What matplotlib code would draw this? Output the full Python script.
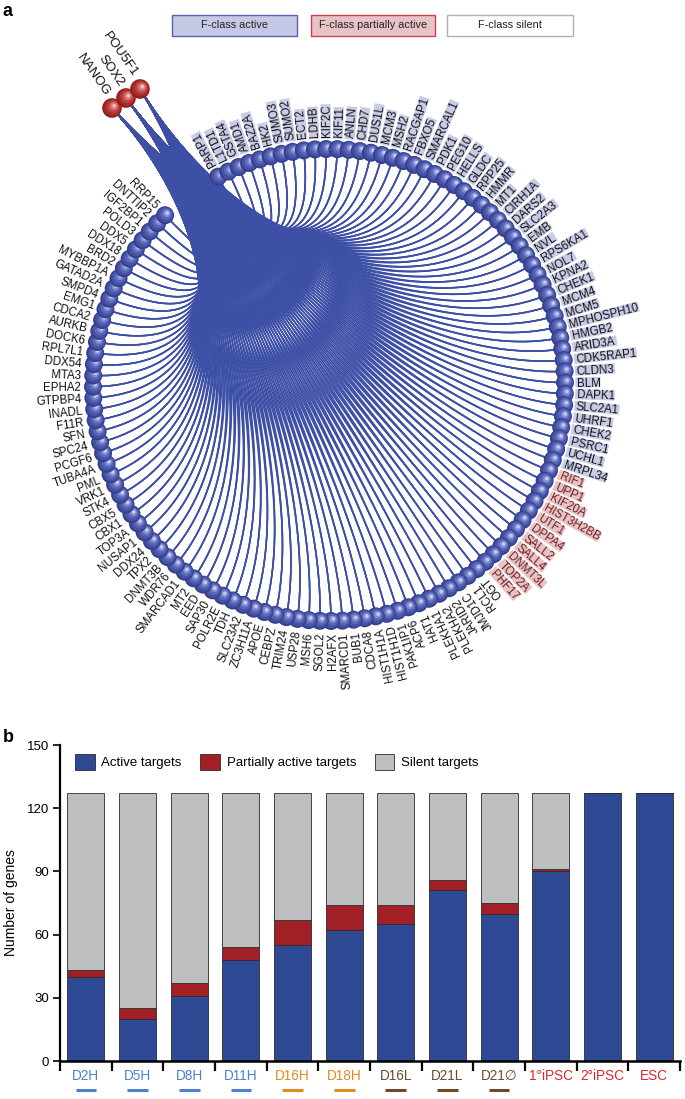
import numpy as np
import matplotlib
matplotlib.use('Agg')
import matplotlib.pyplot as plt
from matplotlib.patches import Rectangle, Circle, Patch
from matplotlib.collections import LineCollection
from matplotlib.textpath import TextPath
from matplotlib.font_manager import FontProperties
import matplotlib.transforms as mtransforms

plt.rcParams['font.family'] = ['Liberation Sans', 'DejaVu Sans']

# ---------------- data ----------------
hub_genes = ['NANOG', 'SOX2', 'POU5F1']

active_genes = ['PARP1', 'L1TD1', 'GSTA4', 'AMD1', 'BAZ2A', 'HK2', 'SUMO3', 'SUMO2',
                'ECT2', 'LDHB', 'KIF2C', 'KIF11', 'ANLN', 'CHD7', 'DUS1L', 'MCM3',
                'MSH2', 'RACGAP1', 'FBXO5', 'SMARCAL1', 'PDK1', 'PEG10', 'HELLS',
                'GLDC', 'RPP25', 'HMMR', 'MT1', 'CIRH1A', 'DARS2', 'SLC2A3', 'EMB',
                'NVL', 'RPS6KA1', 'NOL7', 'KPNA2', 'CHEK1', 'MCM4', 'MCM5',
                'MPHOSPH10', 'HMGB2', 'ARID3A', 'CDK5RAP1', 'CLDN3', 'BLM', 'DAPK1',
                'SLC2A1', 'UHRF1', 'CHEK2', 'PSRC1', 'UCHL1', 'MRPL34']
partial_genes = ['RIF1', 'UPP1', 'KIF20A', 'HIST3H2BB', 'UTF1', 'DPPA4', 'SALL2',
                 'SALL4', 'DNMT3L', 'TOP2A', 'PHF17']
silent_genes = ['OGT', 'RCL1', 'JMJD1C', 'JARID2', 'PLEKHA2', 'PLEKHA1', 'HAT1',
                'ACP6', 'PAK1IP1', 'HIST1H1D', 'HIST1H1A', 'CDCA8', 'BUB1', 'SMARCD1',
                'H2AFX', 'SGOL2', 'MSH6', 'USP28', 'TRIM24', 'CEBPZ', 'APOE',
                'ZC3H11A', 'SLC23A2', 'TDH', 'POLR2E', 'SAP30', 'EED', 'MT2',
                'SMARCAD1', 'WDR76', 'DNMT3B', 'TPX2', 'DDX24', 'NUSAP1', 'TOP3A',
                'CBX1', 'CBX5', 'STK4', 'VRK1', 'PML', 'TUBA4A', 'PCGF6', 'SPC24',
                'SFN', 'F11R', 'INADL', 'GTPBP4', 'EPHA2', 'MTA3', 'DDX54', 'RPL7L1',
                'DOCK6', 'AURKB', 'CDCA2', 'EMG1', 'SMPD4', 'GATAD2A', 'MYBBP1A',
                'BRD2', 'DDX18', 'DDX5', 'POLD3', 'IGF2BP1', 'DNTTIP2', 'RRP15']

legend_a = ['F-class active', 'F-class partially active', 'F-class silent']

stages = ['D2H', 'D5H', 'D8H', 'D11H', 'D16H', 'D18H', 'D16L', 'D21L', 'D21\u2205',
          '1\u00b0iPSC', '2\u00b0iPSC', 'ESC']
active_counts = [40, 20, 31, 48, 55, 62, 65, 81, 70, 90, 127, 127]
partial_counts = [3, 5, 6, 6, 12, 12, 9, 5, 5, 1, 0, 0]
total_targets = 127
stage_colors = ['#4f7fcf'] * 4 + ['#e08b1e'] * 2 + ['#6e4a28'] * 3 + ['#d8282e'] * 3
underlined = [True] * 9 + [False] * 3

# ---------------- figure ----------------
W, H = 685, 1099
fig = plt.figure(figsize=(W / 100, H / 100), dpi=100)
axa = fig.add_axes([0, 0, 1, 1])
axa.set_xlim(0, W)
axa.set_ylim(H, 0)
axa.axis('off')

# panel letters
axa.text(3, 12, 'a', fontsize=13, fontweight='bold', va='center', ha='left')
axa.text(3, 738, 'b', fontsize=13, fontweight='bold', va='center', ha='left')

# legend boxes of panel a
box_specs = [((172, 15), 125, '#c6c9e5', '#5a63b0'),
             ((311, 15), 124, '#e7c3c7', '#d2404e'),
             ((447, 15), 126, '#ffffff', '#b0b0b0')]
for (xy, w, fc, ec), lab in zip(box_specs, legend_a):
    axa.add_patch(Rectangle(xy, w, 21, fc=fc, ec=ec, lw=1.0, zorder=2))
    axa.text(xy[0] + w / 2, xy[1] + 10.5, lab, fontsize=7.8, va='center', ha='center',
             color='#222222', zorder=3)

# ---------------- network ----------------
genes = active_genes + partial_genes + silent_genes
cls = ['a'] * len(active_genes) + ['p'] * len(partial_genes) + ['s'] * len(silent_genes)
n = len(genes)
cx, cy, R = 329.0, 385.0, 236.0
angles = np.linspace(118.0, 134.0 - 360.0, n)
rad = np.deg2rad(angles)
nx = cx + R * np.cos(rad)
ny = cy - R * np.sin(rad)

hub_xy = np.array([[112.0, 108.0], [126.0, 98.0], [140.0, 89.0]])
F = np.array([232.0, 238.0])
C = np.array([cx, cy])

t = np.linspace(0, 1, 60)[:, None]
segs = []
for hx, hy in hub_xy:
    P0 = np.array([hx, hy])
    P1 = F
    for x, y in zip(nx, ny):
        P3 = np.array([x, y])
        P2 = C + 0.42 * (P3 - C)
        pts = ((1 - t) ** 3) * P0 + 3 * ((1 - t) ** 2) * t * P1 + 3 * (1 - t) * t ** 2 * P2 + t ** 3 * P3
        segs.append(pts)
lc = LineCollection(segs, colors='#3e4fa6', linewidths=1.1, zorder=2)
axa.add_collection(lc)

node_layers = [(9.0, '#36408c', 0.0, 0.0), (7.5, '#4652a5', 0.5, -0.5),
               (5.6, '#5b67ba', 1.2, -1.2), (3.6, '#8390d0', 1.8, -1.8),
               (1.8, '#c6ccf0', 2.2, -2.2)]
for i, (x, y) in enumerate(zip(nx, ny)):
    for r, c, dx, dy in node_layers:
        axa.add_patch(Circle((x + dx, y + dy), r, fc=c, ec='none', zorder=3 + i * 0.001))

hub_layers = [(9.8, '#8e1f1f', 0.0, 0.0), (8.3, '#a82c2c', 0.6, -0.6),
              (6.2, '#bf4545', 1.3, -1.3), (4.0, '#d87575', 1.9, -1.9),
              (1.9, '#f2bcbc', 2.3, -2.3)]
for j, (x, y) in enumerate(hub_xy):
    for r, c, dx, dy in hub_layers:
        axa.add_patch(Circle((x + dx, y + dy), r, fc=c, ec='none', zorder=5 + j * 0.01))
    axa.text(x - 5, y - 13, hub_genes[j], rotation=-55, rotation_mode='anchor',
             ha='right', va='center', fontsize=9.5, color='#111111', zorder=6)

# gene labels
fs = 8.3
fs_px = fs * 100 / 72
fp = FontProperties(family='Liberation Sans')
cap = 0.716 * fs_px
box_h = 10.2
label_style = {'a': ('#111111', '#c9cce7'), 'p': ('#6e1d1d', '#e8c4c7'), 's': ('#111111', None)}
for i, g in enumerate(genes):
    th = angles[i]
    r = R + 12
    ax_ = cx + r * np.cos(rad[i])
    ay_ = cy - r * np.sin(rad[i])
    tc, bc = label_style[cls[i]]
    if cls[i] in ('a', 'p'):
        rot = th
        ha = 'left'
    else:
        rot = th + 180
        ha = 'right'
    rr = np.deg2rad(rot)
    u = np.array([np.cos(rr), -np.sin(rr)])        # text direction (data coords)
    up = np.array([-np.sin(rr), -np.cos(rr)])      # text "up" direction (data coords)
    base = np.array([ax_, ay_]) - up * cap / 2
    axa.text(base[0], base[1], g, rotation=rot % 360, ha=ha, va='baseline',
             rotation_mode='anchor', fontsize=fs, color=tc, zorder=6)
    if bc is not None:
        w = TextPath((0, 0), g, size=fs_px, prop=fp).get_extents().width
        corner = np.array([ax_, ay_]) - 1.6 * u + up * box_h / 2
        axa.add_patch(Rectangle(tuple(corner), w + 3.2, box_h, angle=-rot,
                                rotation_point='xy', fc=bc, ec='none', zorder=5.5))

# ---------------- panel b ----------------
axb = fig.add_axes([60 / W, 38 / H, 620 / W, 316 / H])
xpos = np.arange(len(stages))
act = np.array(active_counts)
par = np.array(partial_counts)
sil = total_targets - act - par
bw = 0.72
ec = '#2b2b2b'
axb.bar(xpos, act, bw, color='#2f4a94', edgecolor=ec, linewidth=0.6, label='Active targets')
axb.bar(xpos, par, bw, bottom=act, color='#a11f25', edgecolor=ec, linewidth=0.6,
        label='Partially active targets')
axb.bar(xpos, sil, bw, bottom=act + par, color='#bdbec0', edgecolor=ec, linewidth=0.6,
        label='Silent targets')

axb.set_xlim(-0.5, len(stages) - 0.5)
axb.set_ylim(0, 150)
axb.set_yticks(np.arange(0, 151, 30))
axb.set_xticks(np.arange(-0.5, len(stages), 1.0))
axb.set_xticklabels([])
axb.tick_params(axis='x', length=7, width=1.6, direction='out')
axb.tick_params(axis='y', length=5, width=1.2, direction='out', labelsize=9.5, pad=3)
for s in ['top', 'right']:
    axb.spines[s].set_visible(False)
axb.spines['left'].set_linewidth(1.6)
axb.spines['bottom'].set_linewidth(1.8)
axb.set_ylabel('Number of genes', fontsize=10, labelpad=6)

trans = mtransforms.blended_transform_factory(axb.transData, axb.transAxes)
for i, (s, c, u_) in enumerate(zip(stages, stage_colors, underlined)):
    axb.text(i, -0.048, s, color=c, fontsize=9.8, ha='center', va='center',
             transform=trans, clip_on=False)
    if u_:
        axb.plot([i - 0.2, i + 0.2], [-0.092, -0.092], color=c, lw=2.2,
                 transform=trans, clip_on=False, solid_capstyle='butt')

handles = [Patch(fc='#2f4a94', ec=ec, lw=0.6), Patch(fc='#a11f25', ec=ec, lw=0.6),
           Patch(fc='#bdbec0', ec=ec, lw=0.6)]
axb.legend(handles, ['Active targets', 'Partially active targets', 'Silent targets'],
           loc='upper left', bbox_to_anchor=(0.005, 1.01), ncol=3, frameon=False,
           fontsize=9.5, handlelength=1.5, handleheight=1.5, columnspacing=1.4,
           handletextpad=0.5)

fig.savefig('out.png', dpi=100)
